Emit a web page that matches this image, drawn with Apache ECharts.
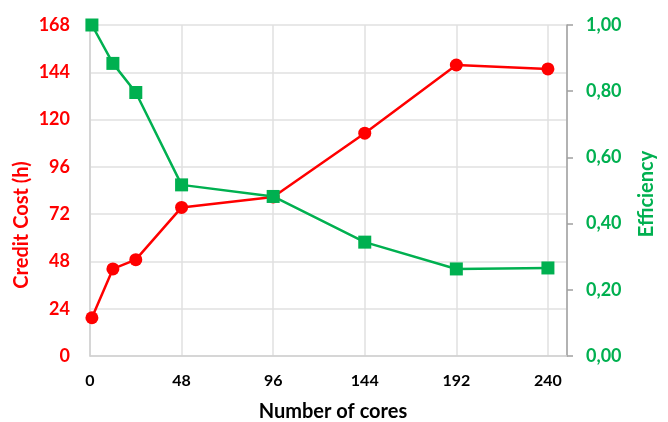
<!DOCTYPE html>
<html>
  <head>
    <meta charset="utf-8" />
    <title>Credit cost and efficiency</title>
    <script src="https://cdn.jsdelivr.net/npm/echarts@6.0.0/dist/echarts.min.js"></script>
  </head>
  <body style="margin: 0">
    <div id="main" style="width: 668px; height: 422px"></div>

    <script>
      // 数据
      var cores = [1, 12, 24, 48, 96, 144, 192, 240];
      var creditCost = [19.4, 44.2, 48.9, 75.4, 80.7, 113.1, 147.7, 145.7];
      var efficiency = [1.0, 0.884, 0.796, 0.517, 0.482, 0.344, 0.263, 0.266];

      var red = "#ff0000";
      var green = "#00b050";
      var font = "Lato";

      var myChart = echarts.init(document.getElementById("main"));

      var option = {
        animation: false,
        textStyle: { fontFamily: font },
        grid: { left: 90, right: 101, top: 25, bottom: 66 },
        xAxis: {
          type: "value",
          min: 0,
          max: 250,
          interval: 48,
          axisLine: { lineStyle: { color: "#d0d0d0", width: 1.5 } },
          axisTick: { show: false },
          axisLabel: {
            color: "#000",
            fontWeight: "bold",
            fontSize: 16,
            margin: 17,
            formatter: function (v) {
              return v % 48 === 0 ? v : "";
            },
          },
          splitLine: { lineStyle: { color: "#e0e0e0", width: 1.5 } },
        },
        yAxis: [
          {
            type: "value",
            min: 0,
            max: 168,
            interval: 24,
            axisLine: { show: true, lineStyle: { color: "#d0d0d0", width: 1.5 } },
            axisTick: { show: false },
            axisLabel: { color: red, fontWeight: "bold", fontSize: 18, margin: 20 },
            splitLine: { lineStyle: { color: "#e0e0e0", width: 1.5 } },
          },
          {
            type: "value",
            position: "right",
            min: 0,
            max: 1,
            interval: 0.2,
            axisLine: { show: true, lineStyle: { color: "#a0a0a0", width: 1.5 } },
            axisTick: { show: true, length: 6, lineStyle: { color: "#a0a0a0", width: 1.5 } },
            axisLabel: {
              color: green,
              fontWeight: "bold",
              fontSize: 18,
              margin: 19,
              formatter: function (v) {
                return v.toFixed(2).replace(".", ",");
              },
            },
            splitLine: { show: false },
          },
        ],
        series: [
          {
            type: "line",
            yAxisIndex: 0,
            data: cores.map(function (c, i) { return [c, creditCost[i]]; }),
            symbol: "circle",
            symbolSize: 13,
            itemStyle: { color: red },
            lineStyle: { color: red, width: 2.5 },
          },
          {
            type: "line",
            yAxisIndex: 1,
            data: cores.map(function (c, i) { return [c, efficiency[i]]; }),
            symbol: "rect",
            symbolSize: 13,
            itemStyle: { color: green },
            lineStyle: { color: green, width: 2.5 },
          },
        ],
        graphic: [
          {
            type: "text",
            x: 22,
            y: 225,
            rotation: Math.PI / 2,
            style: {
              text: "Credit Cost (h)",
              fill: red,
              font: "bold 20px " + font,
              align: "center",
              verticalAlign: "middle",
            },
          },
          {
            type: "text",
            x: 647,
            y: 194,
            rotation: Math.PI / 2,
            style: {
              text: "Efficiency",
              fill: green,
              font: "bold 20px " + font,
              align: "center",
              verticalAlign: "middle",
            },
          },
          {
            type: "text",
            x: 333,
            y: 412,
            style: {
              text: "Number of cores",
              fill: "#000",
              font: "bold 20px " + font,
              align: "center",
              verticalAlign: "middle",
            },
          },
        ],
      };

      myChart.setOption(option);
    </script>
  </body>
</html>
